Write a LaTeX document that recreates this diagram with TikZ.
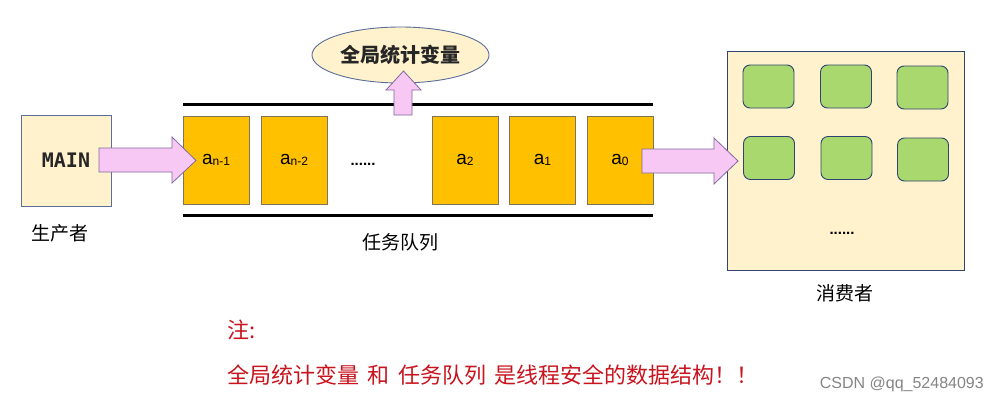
\documentclass[tikz,border=0pt]{standalone}
\usepackage{fontspec}
\setmainfont{Liberation Sans}
\newfontfamily\cjk{Noto Sans CJK SC}
\newfontfamily\monob{DejaVu Sans Mono}
\usetikzlibrary{shapes.geometric}
\definecolor{cream}{HTML}{FFF2CC}
\definecolor{bluegrey}{HTML}{5A6E99}
\definecolor{darkblue}{HTML}{2F4470}
\definecolor{pinkfill}{HTML}{F8C8F4}
\definecolor{pinkline}{HTML}{7F6A9E}
\definecolor{qyellow}{HTML}{FFC000}
\definecolor{qline}{HTML}{7F735A}
\definecolor{green1}{HTML}{A9D86E}
\definecolor{redtxt}{HTML}{C8141E}
\newcommand\qlab[1]{{\fontsize{19}{19}\selectfont a}{\fontsize{12}{12}\selectfont\raisebox{-1.5pt}{#1}}}
\newcommand\gapsp{\hspace{8.5pt}}
\begin{document}
\begin{tikzpicture}[x=1pt,y=-1pt,
  qbox/.style={draw=qline, fill=qyellow, line width=0.8pt, minimum width=66pt, minimum height=88pt, inner sep=0pt},
  workerbox/.style={draw=darkblue, fill=green1, line width=0.9pt, rounded corners=7pt, minimum width=51pt, minimum height=43pt, inner sep=0pt},
  blockarrow/.style={draw=pinkline, fill=pinkfill, line width=0.8pt, line join=miter},
  cjklabel/.style={font=\cjk\fontsize{19}{19}\selectfont, text=black, inner sep=0pt},
  redlabel/.style={font=\cjk\fontsize{22}{22}\selectfont, text=redtxt, inner sep=0pt, anchor=west},
  dotlabel/.style={inner sep=0pt, font=\bfseries\fontsize{15}{15}\selectfont}
]
\useasboundingbox (0,0) rectangle (999,402);
\fill[white] (0,0) rectangle (999,402);

% queue rails
\coordinate (rtl) at (183,104);
\coordinate (rtr) at (653,104);
\coordinate (rbl) at (183,215);
\coordinate (rbr) at (653,215);
\draw[line width=3pt] (rtl) -- (rtr);
\draw[line width=3pt] (rbl) -- (rbr);

% queue items
\node[qbox] (q1) at (216,160) {\qlab{n-1}};
\node[qbox] (q2) at (294,160) {\qlab{n-2}};
\node[dotlabel] (qdots) at (363,164) {......};
\node[qbox] (q3) at (465,160) {\qlab{2}};
\node[qbox] (q4) at (542.5,160) {\qlab{1}};
\node[qbox] (q5) at (620,160) {\qlab{0}};
\node[cjklabel] (qname) at (400,242) {任务队列};

% global statistics ellipse
\node[ellipse, draw=bluegrey, fill=cream, line width=0.9pt, minimum width=177pt, minimum height=56pt, inner sep=0pt,
      font=\cjk\bfseries\fontsize{20}{20}\selectfont, text=black!85] (glob) at (400.5,55) {全局统计变量};
\draw[blockarrow] (394,115) -- (394,90) -- (386,90) -- (403.5,71) -- (421,90) -- (412,90) -- (412,115) -- cycle;

% producer
\node[draw=bluegrey, fill=cream, line width=0.9pt, minimum width=90pt, minimum height=91pt, inner sep=0pt,
      font=\monob\bfseries\fontsize{20}{20}\selectfont, text=black!85] (main) at (66,160.5) {MAIN};
\node[cjklabel] (prod) at (60,233) {生产者};
\draw[blockarrow] (99,148) -- (172,148) -- (172,137) -- (196,160.5) -- (172,183) -- (172,172) -- (99,172) -- cycle;

% consumer
\node[draw=darkblue, fill=cream, line width=1pt, minimum width=237pt, minimum height=219pt, inner sep=0pt] (cons) at (845.5,160.5) {};
\node[workerbox] (w1) at (768.5,86.5) {};
\node[workerbox] (w2) at (846,86.5) {};
\node[workerbox] (w3) at (922.5,87.5) {};
\node[workerbox] (w4) at (769,158) {};
\node[workerbox] (w5) at (846.5,158) {};
\node[workerbox] (w6) at (923,159.5) {};
\node[dotlabel] (cdots) at (842,233) {......};
\node[cjklabel] (cname) at (845,293) {消费者};
\draw[blockarrow] (642,149) -- (714,149) -- (714,138) -- (738,161) -- (714,184) -- (714,173) -- (642,173) -- cycle;

% note
\node[redlabel] (note1) at (227,330) {注:};
\node[redlabel] (note2) at (227,375) {全局统计变量\gapsp 和\gapsp 任务队列\gapsp 是线程安全的数据结构！！};

% watermark
\node[anchor=east, inner sep=0pt, text=black!48, font=\fontsize{16}{16}\selectfont] (csdn) at (984,384) {CSDN @qq\_52484093};
\end{tikzpicture}
\end{document}
